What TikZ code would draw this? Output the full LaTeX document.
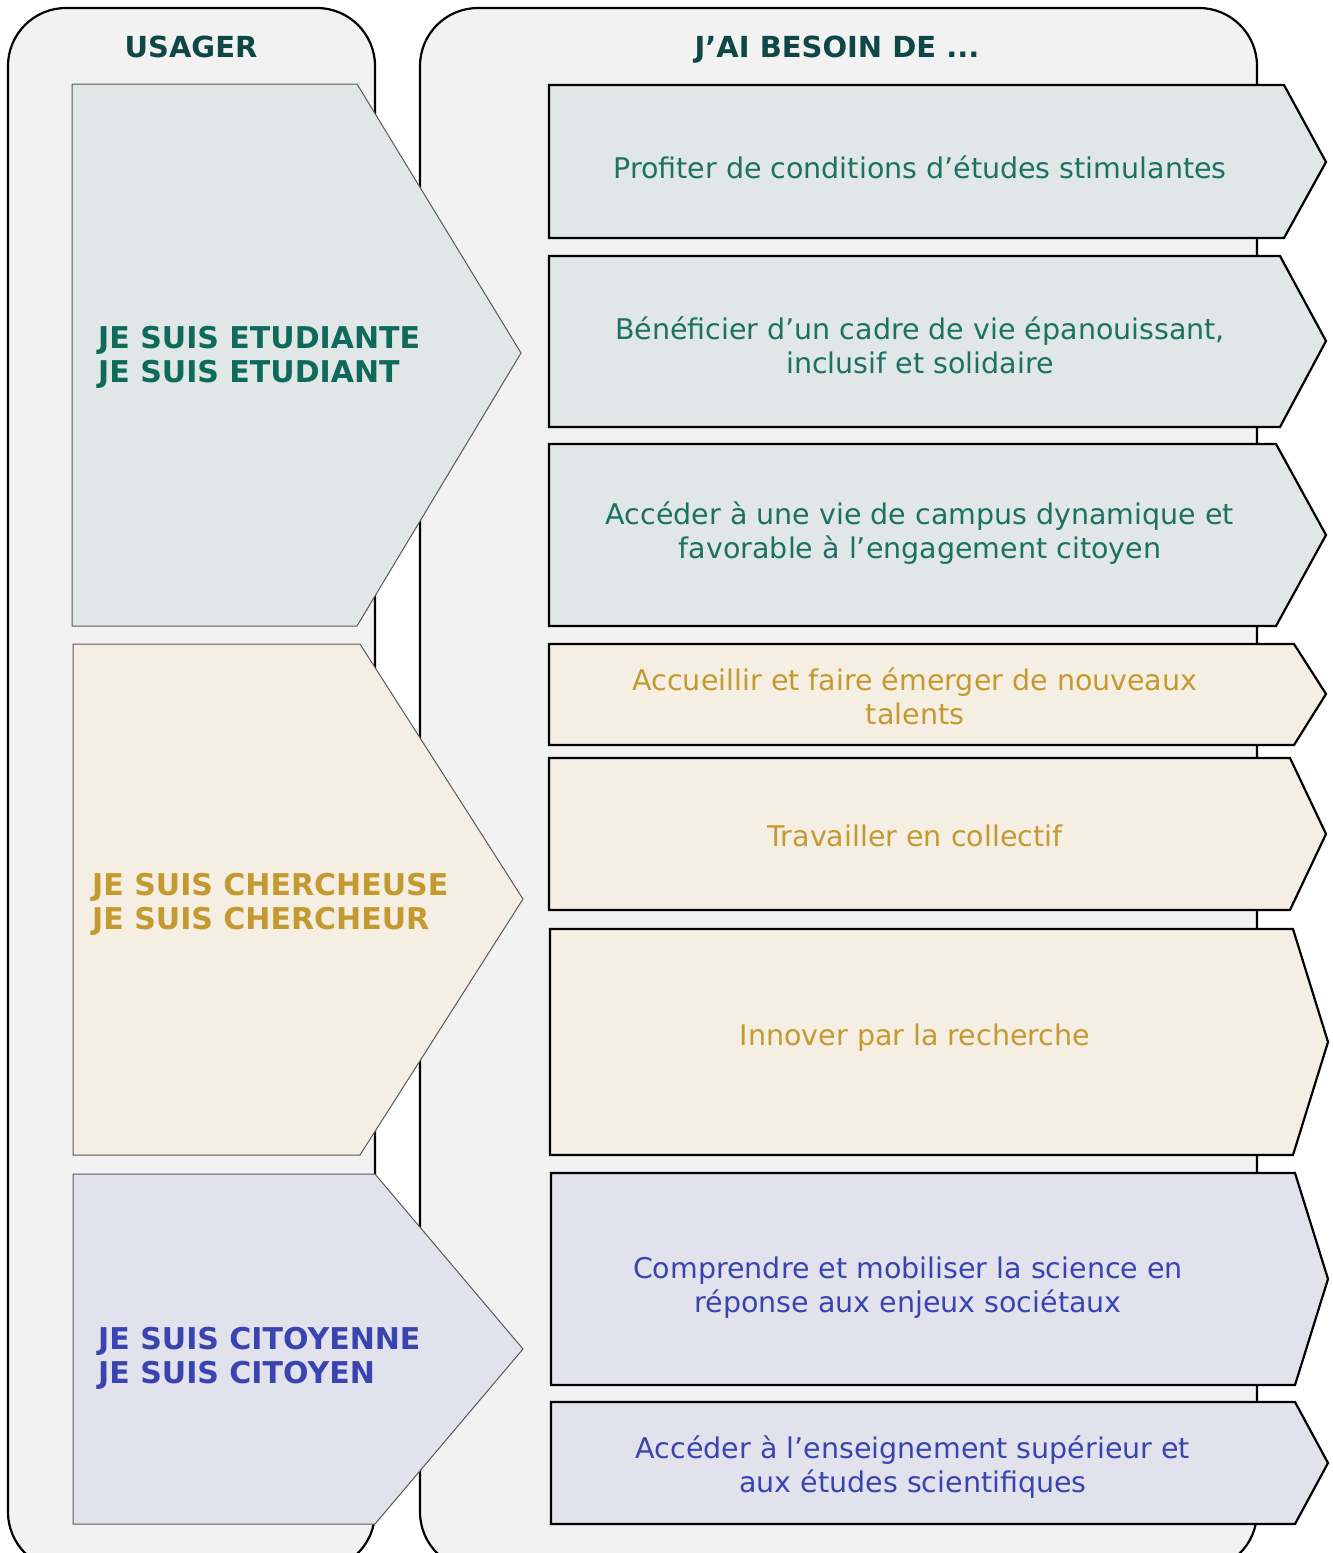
\documentclass[tikz,border=0pt]{standalone}
\usepackage{fontspec}
\setmainfont{DejaVu Sans}
\definecolor{contfill}{HTML}{F2F2F2}
\definecolor{tealfill}{HTML}{E1E6E6}
\definecolor{tealtxt}{HTML}{1B7262}
\definecolor{tealbold}{HTML}{0E6A5A}
\definecolor{headtxt}{HTML}{0F4747}
\definecolor{tanfill}{HTML}{F4EEE3}
\definecolor{goldtxt}{HTML}{C49A30}
\definecolor{bluefill}{HTML}{E1E2EC}
\definecolor{bluetxt}{HTML}{3A44B0}
\tikzset{
  container/.style={draw=black, line width=2.2pt, fill=contfill, rounded corners=58pt},
  usagerbox/.style={draw=black!65, line width=1pt, line join=miter},
  needbox/.style={draw=black, line width=2.2pt, line join=miter},
  headtext/.style={font=\fontsize{29}{34}\selectfont\bfseries, text=headtxt, anchor=base, inner sep=0pt},
  whotext/.style={font=\fontsize{30}{34}\selectfont\bfseries, align=left, anchor=west, inner sep=0pt},
  needtext/.style={font=\fontsize{28.5}{34}\selectfont, align=center, inner sep=0pt},
}
\begin{document}
\begin{tikzpicture}[x=1pt,y=-1pt]
\useasboundingbox (0,0) rectangle (1333,1553);
\fill[white] (0,0) rectangle (1333,1553);
\begin{scope}
\clip (0,0) rectangle (1333,1553);
\draw[container] (8,8) rectangle (375,1570);
\draw[container] (420,8) rectangle (1257,1570);
\end{scope}
\node[headtext] (hU) at (191,57) {USAGER};
\node[headtext] (hB) at (837,57) {J’AI BESOIN DE ...};
% left usager chevrons
\draw[usagerbox, fill=tealfill] (72,84) -- (357,84) -- (521,353) -- (357,626) -- (72,626) -- cycle;
\draw[usagerbox, fill=tanfill] (73,644) -- (360,644) -- (523,899) -- (360,1155) -- (73,1155) -- cycle;
\draw[usagerbox, fill=bluefill] (73,1174) -- (375,1174) -- (523,1349) -- (375,1524) -- (73,1524) -- cycle;
\node[whotext, text=tealbold] (w1) at (98,357) {JE SUIS ETUDIANTE\\JE SUIS ETUDIANT};
\node[whotext, text=goldtxt] (w2) at (92,904) {JE SUIS CHERCHEUSE\\JE SUIS CHERCHEUR};
\node[whotext, text=bluetxt] (w3) at (98,1358) {JE SUIS CITOYENNE\\JE SUIS CITOYEN};
% right need chevrons
\draw[needbox, fill=tealfill] (549,85) -- (1284,85) -- (1326,162) -- (1284,238) -- (549,238) -- cycle;
\draw[needbox, fill=tealfill] (549,256) -- (1280,256) -- (1326,341) -- (1280,427) -- (549,427) -- cycle;
\draw[needbox, fill=tealfill] (549,444) -- (1276,444) -- (1326,535) -- (1276,626) -- (549,626) -- cycle;
\draw[needbox, fill=tanfill] (549,644) -- (1294,644) -- (1326,694) -- (1294,745) -- (549,745) -- cycle;
\draw[needbox, fill=tanfill] (549,758) -- (1290,758) -- (1326,834) -- (1290,910) -- (549,910) -- cycle;
\draw[needbox, fill=tanfill] (550,929) -- (1293,929) -- (1328,1042) -- (1293,1155) -- (550,1155) -- cycle;
\draw[needbox, fill=bluefill] (551,1173) -- (1295,1173) -- (1328,1279) -- (1295,1385) -- (551,1385) -- cycle;
\draw[needbox, fill=bluefill] (551,1402) -- (1295,1402) -- (1328,1463) -- (1295,1524) -- (551,1524) -- cycle;
\node[needtext, text=tealtxt] (n1) at (920,167) {Profiter de conditions d’études stimulantes};
\node[needtext, text=tealtxt] (n2) at (920,345) {Bénéficier d’un cadre de vie épanouissant,\\inclusif et solidaire};
\node[needtext, text=tealtxt] (n3) at (920,533) {Accéder à une vie de campus dynamique et\\favorable à l’engagement citoyen};
\node[needtext, text=goldtxt] (n4) at (915,696) {Accueillir et faire émerger de nouveaux\\talents};
\node[needtext, text=goldtxt] (n5) at (915,836) {Travailler en collectif};
\node[needtext, text=goldtxt] (n6) at (915,1038) {Innover par la recherche};
\node[needtext, text=bluetxt] (n7) at (908,1288) {Comprendre et mobiliser la science en\\réponse aux enjeux sociétaux};
\node[needtext, text=bluetxt] (n8) at (913,1467) {Accéder à l’enseignement supérieur et\\aux études scientifiques};
\end{tikzpicture}
\end{document}
